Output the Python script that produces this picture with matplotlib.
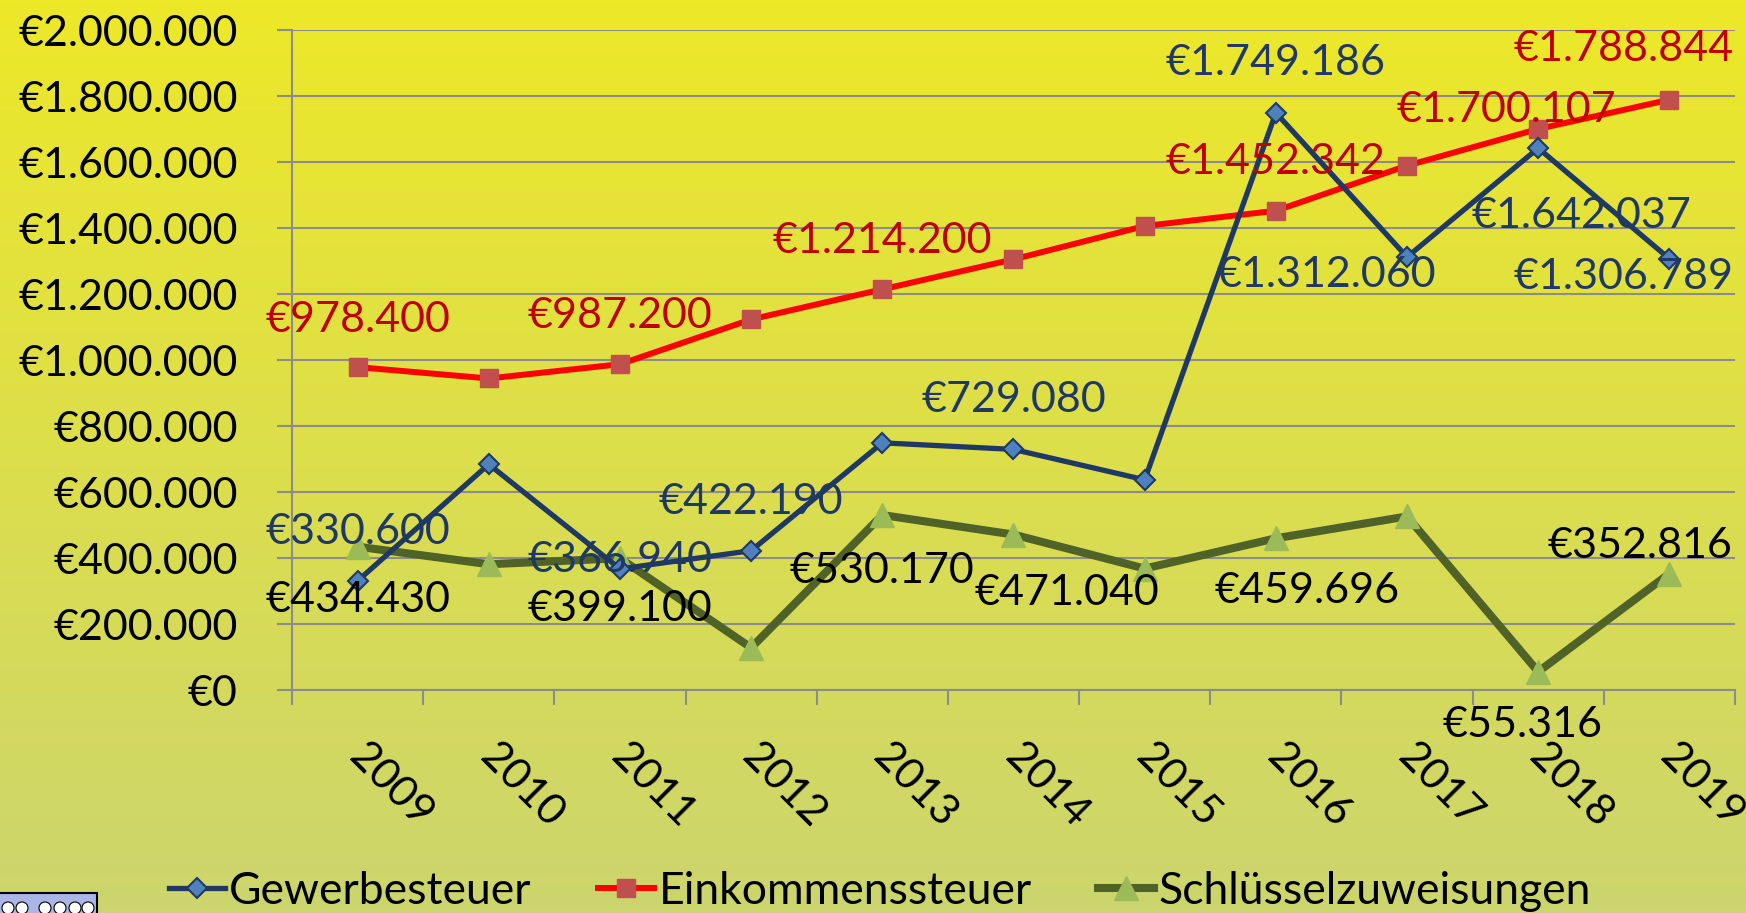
import numpy as np
import matplotlib
matplotlib.use("Agg")
import matplotlib.pyplot as plt
import matplotlib.transforms as mtransforms
from matplotlib.ticker import FuncFormatter, MultipleLocator, FixedLocator
from matplotlib.patches import Rectangle, Ellipse

# ---------------- data ----------------
years = ["2009", "2010", "2011", "2012", "2013", "2014", "2015", "2016", "2017", "2018", "2019"]
gewerbe = [330600, 684000, 366940, 422190, 749000, 729080, 637000, 1749186, 1312060, 1642037, 1306789]
einkommen = [978400, 944000, 987200, 1123000, 1214200, 1305000, 1406000, 1452342, 1589000, 1700107, 1788844]
schluessel = [434430, 381000, 399100, 128000, 530170, 471040, 368000, 459696, 526000, 55316, 352816]
series_names = ["Gewerbesteuer", "Einkommenssteuer", "Schlüsselzuweisungen"]

# which points carry a value label, and where the label sits (offset in pixels)
gew_lab_idx = [0, 2, 3, 5, 7, 8, 9, 10]
gew_lab_off = [(0, 49), (0, 9), (0, 49), (0, 49), (0, 50), (-81, -18), (43, -68), (-46, -18)]
ein_lab_idx = [0, 2, 4, 7, 9, 10]
ein_lab_off = [(0, 47), (0, 48), (0, 48), (0, 49), (-32, 19), (-46, 51)]
sch_lab_idx = [0, 2, 4, 5, 7, 9, 10]
sch_lab_off = [(0, -53), (0, -51), (0, -56), (53, -58), (31, -53), (-16, -53), (-29, 28)]

FONT = ["Lato", "DejaVu Sans"]
plt.rcParams['font.family'] = FONT

W, H = 1746, 913
fig = plt.figure(figsize=(W / 100, H / 100), dpi=100)

# gradient background
bg = fig.add_axes([0, 0, 1, 1], zorder=-10)
top = np.array([237, 232, 40]) / 255
bot = np.array([204, 213, 110]) / 255
t = np.linspace(0, 1, 256)[:, None]
grad = (top[None, :] * (1 - t) + bot[None, :] * t)[:, None, :]
bg.imshow(grad, aspect='auto', extent=[0, 1, 0, 1], origin='upper')
bg.set_xlim(0, 1); bg.set_ylim(0, 1)
bg.axis('off')

# small logo at bottom-left corner
bg.add_patch(Rectangle((-0.01, -0.01), 97 / W + 0.01, (913 - 893) / H + 0.01,
                       facecolor="#A9B6E6", edgecolor="black", lw=1.5))
for cx in [8, 22, 45, 60, 75, 88]:
    bg.add_patch(Ellipse((cx / W, 5 / H), 12 / W, 12 / H, facecolor="white",
                         edgecolor="black", lw=0.8))

ax = fig.add_axes([292 / W, 1 - 690 / H, (1735 - 292) / W, (690 - 30) / H])
ax.set_facecolor('none')

x = np.arange(len(years))
grid_c = "#8C8C8C"

ax.plot(x, gewerbe, color="#1F3864", lw=3.8, marker='D', ms=10, mfc="#4F81BD",
        mec="#1F3864", mew=1.5, label=series_names[0], zorder=4)
ax.plot(x, einkommen, color="#FF0000", lw=4.3, marker='s', ms=13, mfc="#C0504D",
        mec="#C0504D", label=series_names[1], zorder=3)
ax.plot(x, schluessel, color="#4F6228", lw=5.8, marker='^', ms=17, mfc="#9BBB59",
        mec="#9BBB59", label=series_names[2], zorder=2)

def fmt(v):
    return "€" + f"{v:,}".replace(",", ".")

lab_fs = 31
for idx, off in zip(gew_lab_idx, gew_lab_off):
    ax.annotate(fmt(gewerbe[idx]), (x[idx], gewerbe[idx]), xytext=off,
                textcoords='offset pixels', ha='center', va='center',
                fontsize=lab_fs, color="#1F3864", zorder=6)
for idx, off in zip(ein_lab_idx, ein_lab_off):
    ax.annotate(fmt(einkommen[idx]), (x[idx], einkommen[idx]), xytext=off,
                textcoords='offset pixels', ha='center', va='center',
                fontsize=lab_fs, color="#C00000", zorder=6)
for idx, off in zip(sch_lab_idx, sch_lab_off):
    ax.annotate(fmt(schluessel[idx]), (x[idx], schluessel[idx]), xytext=off,
                textcoords='offset pixels', ha='center', va='center',
                fontsize=lab_fs, color="black", zorder=6)

ax.set_xlim(-0.5, len(years) - 0.5)
ax.set_ylim(0, 2000000)
ax.yaxis.set_major_locator(MultipleLocator(200000))
ax.yaxis.set_major_formatter(FuncFormatter(lambda v, p: fmt(int(round(v)))))
ax.grid(axis='y', color=grid_c, lw=1.5)
ax.set_axisbelow(True)

for s in ['top', 'right']:
    ax.spines[s].set_visible(False)
for s in ['left', 'bottom']:
    ax.spines[s].set_color(grid_c)
    ax.spines[s].set_linewidth(1.5)

ax.set_xticks(x)
ax.set_xticklabels(years)
ax.xaxis.set_minor_locator(FixedLocator(np.arange(-0.5, len(years), 1.0)))
ax.tick_params(axis='x', which='major', length=0, pad=30, labelsize=31)
ax.tick_params(axis='x', which='minor', length=11, width=1.5, color=grid_c)
ax.tick_params(axis='y', which='major', length=11, width=1.5, color=grid_c, pad=28, labelsize=31)
shift = mtransforms.ScaledTranslation(11 / 100, -5 / 100, fig.dpi_scale_trans)
for lbl in ax.get_xticklabels():
    lbl.set_rotation(-45)
    lbl.set_ha('left')
    lbl.set_va('top')
    lbl.set_rotation_mode('anchor')
    lbl.set_transform(lbl.get_transform() + shift)

leg = fig.legend(loc='center', bbox_to_anchor=(0.504, 0.024), ncol=3, frameon=False,
                 fontsize=32, handlelength=1.25, handletextpad=0.1, columnspacing=1.5,
                 borderaxespad=0, borderpad=0)

fig.savefig("out.png", dpi=100)
